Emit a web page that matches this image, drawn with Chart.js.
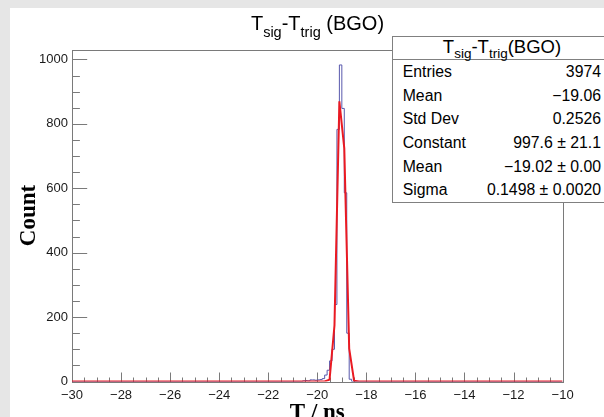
<!DOCTYPE html>
<html>
<head>
<meta charset="utf-8">
<script src="https://cdn.jsdelivr.net/npm/chart.js@4.4.1/dist/chart.umd.min.js"></script>
<style>
  html, body { margin: 0; padding: 0; }
  body { width: 604px; height: 417px; overflow: hidden; background: #e6e6e6; position: relative;
         font-family: 'Liberation Sans', Arial, sans-serif; color: #000; }
  #pad { position: absolute; left: 10px; top: 8px; width: 614px; height: 415px; background: #fff; }
  #title { position: absolute; left: 217.5px; width: 200px; top: 12.5px; text-align: center;
           font-size: 20px; line-height: 20px; white-space: nowrap; z-index: 2; }
  #title sub { font-size: 14.5px; vertical-align: -6.5px; line-height: 0; }
  #stats { position: absolute; left: 392px; top: 36px; width: 220px; box-sizing: border-box;
           border: 1px solid #808080; background: #fff; z-index: 3; }
  #stats .head { height: 22px; line-height: 20px; font-size: 18.5px; text-align: center;
                 border-bottom: 1px solid #808080; white-space: nowrap; }
  #stats .head sub { font-size: 13.5px; vertical-align: -5px; line-height: 0; }
  #stats .row { display: flex; justify-content: space-between; height: 23.65px; line-height: 23.65px;
                font-size: 15.8px; padding: 0 10px 0 9.7px; white-space: nowrap; }
</style>
</head>
<body>
<div id="pad"><canvas id="histChart" width="614" height="415"></canvas></div>
<div id="title">T<sub>sig</sub>-T<sub>trig</sub> (BGO)</div>
<div id="stats">
  <div class="head">T<sub>sig</sub>-T<sub>trig</sub>(BGO)</div>
  <div id="statRows"></div>
</div>
<script>
// histogram bins (lower edge, width 0.1 ns) and counts
var binWidth = 0.1;
var histLow = [-20.6, -20.5, -20.4, -20.3, -20.2, -20.1, -20.0, -19.9, -19.8, -19.7,
               -19.6, -19.5, -19.4, -19.3, -19.2, -19.1, -19.0, -18.9, -18.8, -18.7];
var histCount = [2, 3, 2, 5, 5, 4, 5, 6, 9, 20,
                 35, 64, 100, 239, 783, 983, 848, 586, 150, 7];

// gaussian fit curve as drawn (polyline points)
var fitX = [-30, -19.7, -19.5, -19.3, -19.1, -18.9, -18.7, -18.5, -18.3, -10];
var fitY = [0, 0, 6, 174, 870, 724, 102, 2, 0, 0];

// axes
var xRange = [-30, -10];
var yRange = [0, 1031];
var xTicks = [-30, -28, -26, -24, -22, -20, -18, -16, -14, -12, -10];
var yTicks = [0, 200, 400, 600, 800, 1000];
var xMinorStep = 0.5;
var yMinorStep = 50;

// stats box
var statNames = ['Entries', 'Mean', 'Std Dev', 'Constant', 'Mean', 'Sigma'];
var statValues = ['3974', '\u221219.06', '0.2526', '997.6 \u00b1 21.1', '\u221219.02 \u00b1 0.00', '0.1498 \u00b1 0.0020'];

var rowsEl = document.getElementById('statRows');
statNames.forEach(function(n, i) {
  var row = document.createElement('div');
  row.className = 'row';
  var a = document.createElement('span'); a.textContent = n;
  var b = document.createElement('span'); b.textContent = statValues[i];
  row.appendChild(a); row.appendChild(b);
  rowsEl.appendChild(row);
});

// step outline points for the histogram (value holds until the next edge)
var histPoints = [{x: xRange[0], y: 0}];
histLow.forEach(function(lo, i) { histPoints.push({x: lo, y: histCount[i]}); });
histPoints.push({x: histLow[histLow.length - 1] + binWidth, y: 0});
histPoints.push({x: xRange[1], y: 0});

var fitPoints = fitX.map(function(x, i) { return {x: x, y: fitY[i]}; });

function minusLabel(v) {
  return v < 0 ? '\u2212' + Math.abs(v) : String(v);
}

var tickFont = {family: "'Liberation Sans', Arial, sans-serif", size: 13};
var titleFont = {family: "'Liberation Serif', 'Times New Roman', serif", size: 23, weight: 'bold', lineHeight: 1};

// ROOT style frame with inward ticks
var frameTicks = {
  id: 'frameTicks',
  beforeDatasetsDraw: function(chart) {
    var ctx = chart.ctx, a = chart.chartArea;
    var xs = chart.scales.x, ys = chart.scales.y;
    var L = Math.round(a.left) + 0.5, R = Math.round(a.right) + 0.5;
    var T = Math.round(a.top) + 0.5, B = Math.round(a.bottom) + 0.5;
    ctx.save();
    ctx.strokeStyle = '#7a7a7a';
    ctx.lineWidth = 1;
    ctx.strokeRect(L, T, R - L, B - T);
    ctx.beginPath();
    var v, p;
    for (v = yRange[0]; v <= yRange[1]; v += yMinorStep) {
      p = Math.round(ys.getPixelForValue(v)) + 0.5;
      var len = yTicks.indexOf(v) >= 0 ? 14.7 : 7.4;
      ctx.moveTo(L, p); ctx.lineTo(L + len, p);
    }
    for (v = xRange[0]; v <= xRange[1] + 1e-9; v += xMinorStep) {
      var vv = Math.round(v * 10) / 10;
      p = Math.round(xs.getPixelForValue(vv)) + 0.5;
      var l2 = xTicks.indexOf(vv) >= 0 ? 10 : 5;
      ctx.moveTo(p, B); ctx.lineTo(p, B - l2);
    }
    ctx.stroke();
    ctx.restore();
  }
};

new Chart(document.getElementById('histChart').getContext('2d'), {
  type: 'line',
  data: {
    datasets: [{
      label: 'fit',
      data: fitPoints,
      borderColor: '#ea1a22',
      borderWidth: 2,
      pointRadius: 0,
      fill: false,
      order: 0
    }, {
      label: 'hist',
      data: histPoints,
      stepped: 'before',
      borderColor: 'rgb(88,88,172)',
      borderWidth: 1,
      pointRadius: 0,
      fill: false,
      order: 1
    }]
  },
  options: {
    responsive: false,
    animation: false,
    devicePixelRatio: 1,
    layout: {padding: {top: 41.5, right: 61.4, left: 0, bottom: 0}},
    plugins: {
      legend: {display: false},
      tooltip: {enabled: false},
      title: {display: false}
    },
    scales: {
      x: {
        type: 'linear',
        position: 'bottom',
        min: xRange[0],
        max: xRange[1],
        afterBuildTicks: function(s) { s.ticks = xTicks.map(function(v) { return {value: v}; }); },
        afterFit: function(s) { s.height = 41.5; },
        grid: {display: false, drawTicks: false},
        border: {display: false},
        ticks: {padding: 6, maxRotation: 0, autoSkip: false, font: tickFont, color: '#1a1a1a', callback: minusLabel},
        title: {display: true, text: 'T / ns', font: titleFont, color: '#000', padding: {top: 0, bottom: -1.5}}
      },
      y: {
        type: 'linear',
        min: yRange[0],
        max: yRange[1],
        afterBuildTicks: function(s) { s.ticks = yTicks.map(function(v) { return {value: v}; }); },
        afterFit: function(s) { s.width = 62; },
        grid: {display: false, drawTicks: false},
        border: {display: false},
        ticks: {padding: 4, font: tickFont, color: '#1a1a1a', callback: minusLabel},
        title: {display: true, text: 'Count', font: titleFont, color: '#000', padding: {top: 7.5, bottom: 0}}
      }
    }
  },
  plugins: [frameTicks]
});
</script>
</body>
</html>
